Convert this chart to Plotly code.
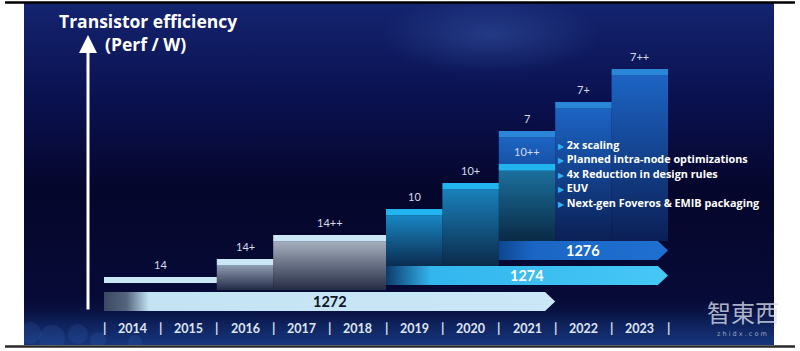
import numpy as np
import plotly.graph_objects as go

# ---------------- data ----------------
years = ["2014", "2015", "2016", "2017", "2018", "2019", "2020", "2021", "2022", "2023"]

node_labels = ["14", "14+", "14++", "10", "10+", "10++", "7", "7+", "7++"]
node_x0 = [0, 2, 3, 5, 6, 7, 7, 8, 9]          # start year index
node_x1 = [2, 3, 5, 6, 7, 8, 8, 9, 10]         # end year index
node_top = [3.4, 5.2, 7.6, 10.2, 12.8, 14.7, 18.0, 20.9, 24.2]   # efficiency level
node_base = [2.8, 2.1, 2.1, 4.5, 4.5, 7.0, 7.0, 7.0, 7.0]
node_family = ["14", "14", "14", "10", "10", "10", "7", "7", "7"]

proc_labels = ["1272", "1274", "1276"]
proc_x0 = [0, 5, 7]
proc_x1 = [8, 10, 10]
proc_y0 = [0.0, 2.6, 5.1]
proc_y1 = [1.9, 4.5, 7.0]

bullets = ["2x scaling", "Planned intra-node optimizations", "4x Reduction in design rules",
           "EUV", "Next-gen Foveros & EMIB packaging"]

# ---------------- styling ----------------
W, H = 800, 351
ML, MR, MT, MB = 24, 26, 3, 6
X_RANGE = [-1.4184, 11.8794]
Y_RANGE = [-3.4, 30.8]
FONT = "Lato"
TFONT = "Open Sans"

strip_h = 0.65
fam_style = {
    "14": dict(strip="#cbe7f6", body=["#222a45", "#8e9cb1"]),
    "10": dict(strip="#22b4ef", body=["#0b2c50", "#1886c2"]),
    "7": dict(strip="#2a86d8", body=["#0b1f55", "#1c64c4"]),
}
body_override = {"14++": ["#252c45", "#a5afbd"], "10++": ["#0a2a45", "#1b6f9c"],
                 "10+": ["#0b2a4a", "#1a80ba"]}
proc_style = {
    "1272": dict(scale=[[0, "#3b4862"], [0.05, "#55657f"], [0.1, "#c4e3f4"], [1, "#c9e7f6"]],
                 font="#0e1526"),
    "1274": dict(scale=[[0, "#0e3a6c"], [0.16, "#33b6ee"], [1, "#46c7f6"]], font="#ffffff"),
    "1276": dict(scale=[[0, "#0d4690"], [0.2, "#1b66c4"], [1, "#1f70d2"]], font="#ffffff"),
}


def px2x(px):
    return X_RANGE[0] + (px - ML) / (W - ML - MR) * (X_RANGE[1] - X_RANGE[0])


def px2y(py):
    return Y_RANGE[1] - (py - MT) / (H - MT - MB) * (Y_RANGE[1] - Y_RANGE[0])


def px2paper_x(px):
    return (px - ML) / (W - ML - MR)


def px2paper_y(py):
    return (H - MB - py) / (H - MT - MB)


def poly(xs, ys, fillcolor, grad=None):
    return go.Scatter(x=xs, y=ys, mode="lines", line=dict(width=0), fill="toself",
                      fillcolor=fillcolor, fillgradient=grad, hoverinfo="skip",
                      showlegend=False)


fig = go.Figure()

# ---- background panel ----
bx0, bx1, by0, by1 = X_RANGE[0], X_RANGE[1], Y_RANGE[0], Y_RANGE[1]
fig.add_trace(poly([bx0, bx1, bx1, bx0, bx0], [by0, by0, by1, by1, by0], "#070a36",
                   dict(type="vertical", start=by0, stop=by1,
                        colorscale=[[0, "#0c2463"], [0.1, "#070b38"], [0.45, "#05062b"],
                                    [0.72, "#0a1150"], [1, "#14246f"]])))
# soft glow top-center
t = np.linspace(0, 2 * np.pi, 60)
gx = px2x(490) + (px2x(600) - px2x(490)) * np.cos(t)
gy = px2y(35) + (px2y(35) - px2y(75)) * np.sin(t)
fig.add_trace(poly(list(gx), list(gy), "rgba(60,100,180,0.1)",
                   dict(type="radial", colorscale=[[0, "rgba(70,110,190,0.35)"],
                                                   [1, "rgba(70,110,190,0)"]])))
# bottom glow band
gb0, gb1 = Y_RANGE[0], px2y(300)
fig.add_trace(poly([bx0, bx1, bx1, bx0, bx0], [gb0, gb0, gb1, gb1, gb0], "rgba(30,70,150,0.1)",
                   dict(type="vertical", start=gb0, stop=gb1,
                        colorscale=[[0, "rgba(35,80,160,0.4)"], [1, "rgba(35,80,160,0)"]])))
# bokeh circles bottom-left
bk_x = [px2x(v) for v in [30, 52, 78, 98, 135]]
bk_y = [px2y(v) for v in [333, 338, 334, 340, 342]]
bk_s = [22, 26, 20, 16, 14]
fig.add_trace(go.Scatter(x=bk_x, y=bk_y, mode="markers",
                         marker=dict(size=bk_s, color="rgba(70,120,200,0.22)", line=dict(width=0)),
                         hoverinfo="skip", showlegend=False))

# ---- node bars (tallest first so shorter overlap in front) ----
order = sorted(range(len(node_labels)), key=lambda i: -node_top[i])
for i in order:
    st = fam_style[node_family[i]]
    body = body_override.get(node_labels[i], st["body"])
    x0, x1, top, base = node_x0[i], node_x1[i], node_top[i], node_base[i]
    sb = max(base, top - strip_h)
    if sb > base:
        fig.add_trace(poly([x0, x1, x1, x0, x0], [base, base, sb, sb, base], body[1],
                           dict(type="vertical", start=base, stop=sb,
                                colorscale=[[0, body[0]], [1, body[1]]])))
    fig.add_trace(poly([x0, x1, x1, x0, x0], [sb, sb, top, top, sb], st["strip"]))

# ---- process arrows ----
tip_len = 0.18
for i, lab in enumerate(proc_labels):
    x0, x1, y0, y1 = proc_x0[i], proc_x1[i], proc_y0[i], proc_y1[i]
    ym = (y0 + y1) / 2
    xs = [x0, x1 - tip_len, x1, x1 - tip_len, x0, x0]
    ys = [y0, y0, ym, y1, y1, y0]
    fig.add_trace(poly(xs, ys, proc_style[lab]["scale"][-1][1],
                       dict(type="horizontal", start=x0, stop=x1,
                            colorscale=proc_style[lab]["scale"])))

annotations = []
# node labels
for i, lab in enumerate(node_labels):
    annotations.append(dict(x=(node_x0[i] + node_x1[i]) / 2, y=node_top[i], xref="x", yref="y",
                            text=lab, showarrow=False, yanchor="bottom", yshift=4,
                            font=dict(family=FONT, size=11, color="#d5dcec")))
# process labels
for i, lab in enumerate(proc_labels):
    annotations.append(dict(x=(proc_x0[i] + proc_x1[i]) / 2, y=(proc_y0[i] + proc_y1[i]) / 2,
                            xref="x", yref="y", text="<b>%s</b>" % lab, showarrow=False,
                            xanchor="center", yanchor="middle",
                            font=dict(family=FONT, size=14.5, color=proc_style[lab]["font"])))
# years + separators
y_year = px2y(328)
for i, yr in enumerate(years):
    annotations.append(dict(x=i + 0.5, y=y_year, xref="x", yref="y", text="<b>%s</b>" % yr,
                            showarrow=False, xanchor="center", yanchor="middle",
                            font=dict(family=FONT, size=12.5, color="#dfe5f2")))
for i in range(len(years) + 1):
    annotations.append(dict(x=i, y=y_year, xref="x", yref="y", text="<b>|</b>",
                            showarrow=False, xanchor="center", yanchor="middle",
                            font=dict(family=FONT, size=13, color="#dfe5f2")))
# bullets
b_y = [144, 158.5, 173, 187.5, 202]
for txt, py in zip(bullets, b_y):
    annotations.append(dict(x=px2x(556), y=px2y(py), xref="x", yref="y", xanchor="left",
                            yanchor="middle",
                            text="<span style='color:#2fb2f0;font-size:8px'>▶</span> <b>%s</b>" % txt,
                            showarrow=False, font=dict(family=TFONT, size=10.8, color="#ffffff")))
# title
annotations.append(dict(x=px2paper_x(57), y=px2paper_y(21), xref="paper", yref="paper",
                        xanchor="left", yanchor="middle", text="<b>Transistor efficiency</b>",
                        showarrow=False, font=dict(family=TFONT, size=17.5, color="#ffffff")))
annotations.append(dict(x=px2paper_x(103), y=px2paper_y(44), xref="paper", yref="paper",
                        xanchor="left", yanchor="middle", text="<b>(Perf / W)</b>",
                        showarrow=False, font=dict(family=TFONT, size=17.5, color="#ffffff")))
# y-axis arrow
annotations.append(dict(x=px2x(88), y=px2y(35), ax=px2x(88), ay=0, xref="x", yref="y",
                        axref="x", ayref="y", text="", showarrow=True, arrowhead=2,
                        arrowsize=1.2, arrowwidth=3, arrowcolor="#ffffff", standoff=0))
# watermark
annotations.append(dict(x=px2paper_x(743), y=px2paper_y(311), xref="paper", yref="paper",
                        xanchor="center", yanchor="middle", text="智東西", showarrow=False,
                        font=dict(family="Noto Sans CJK SC", size=24, color="rgba(215,222,235,0.8)")))
annotations.append(dict(x=px2paper_x(742), y=px2paper_y(334), xref="paper", yref="paper",
                        xanchor="center", yanchor="middle", text="z h i d x . c o m",
                        showarrow=False,
                        font=dict(family="DejaVu Sans", size=6.5, color="rgba(215,222,235,0.7)")))

shapes = [
    dict(type="line", xref="paper", yref="paper", x0=px2paper_x(5), x1=px2paper_x(795),
         y0=px2paper_y(2.5), y1=px2paper_y(2.5), line=dict(color="#000000", width=2.5)),
    dict(type="line", xref="paper", yref="paper", x0=px2paper_x(5), x1=px2paper_x(795),
         y0=px2paper_y(346.5), y1=px2paper_y(346.5), line=dict(color="#2a2a2a", width=2.5)),
]

fig.update_layout(
    width=W, height=H, margin=dict(l=ML, r=MR, t=MT, b=MB),
    paper_bgcolor="#ffffff", plot_bgcolor="#06082e",
    xaxis=dict(range=X_RANGE, visible=False, fixedrange=True),
    yaxis=dict(range=Y_RANGE, visible=False, fixedrange=True),
    annotations=annotations, shapes=shapes, showlegend=False,
)

fig.write_html("out.html")
